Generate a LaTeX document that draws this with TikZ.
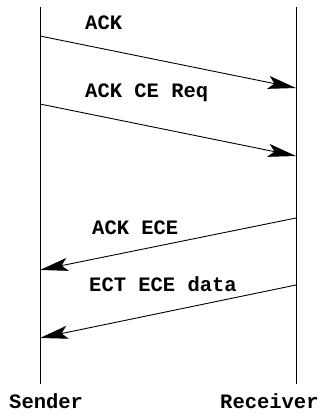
\documentclass[tikz,border=0pt]{standalone}
\usepackage{fontspec}
\setmonofont{Liberation Mono}
\usetikzlibrary{arrows.meta}
\begin{document}
\begin{tikzpicture}[x=1pt,y=-1pt,
  msg/.style={line width=0.9pt,-{Stealth[length=28pt,width=13pt,inset=6pt]}},
  life/.style={line width=0.9pt},
  lbl/.style={inner sep=0pt,anchor=west,font=\fontsize{20.5}{22}\selectfont\ttfamily\bfseries}]
\useasboundingbox (0,0) rectangle (324,416);
\coordinate (st) at (40,7);
\coordinate (sb) at (40,384);
\coordinate (rt) at (296,7);
\coordinate (rb) at (296,384);
\draw[life] (st) -- (sb);
\draw[life] (rt) -- (rb);
\coordinate (a1) at (40,36);  \coordinate (b1) at (296,88);
\coordinate (a2) at (40,104); \coordinate (b2) at (296,156);
\coordinate (a3) at (296,218); \coordinate (b3) at (40,270);
\coordinate (a4) at (296,285); \coordinate (b4) at (40,338);
\draw[msg] (a1) -- (b1);
\draw[msg] (a2) -- (b2);
\draw[msg] (a3) -- (b3);
\draw[msg] (a4) -- (b4);
\node[lbl] (l1) at (85,23) {ACK};
\node[lbl] (l2) at (85,93) {ACK CE Req};
\node[lbl] (l3) at (92,228) {ACK ECE};
\node[lbl] (l4) at (89,284) {ECT ECE data};
\node[lbl] (s) at (9,401) {Sender};
\node[lbl] (r) at (220,401) {Receiver};
\end{tikzpicture}
\end{document}
